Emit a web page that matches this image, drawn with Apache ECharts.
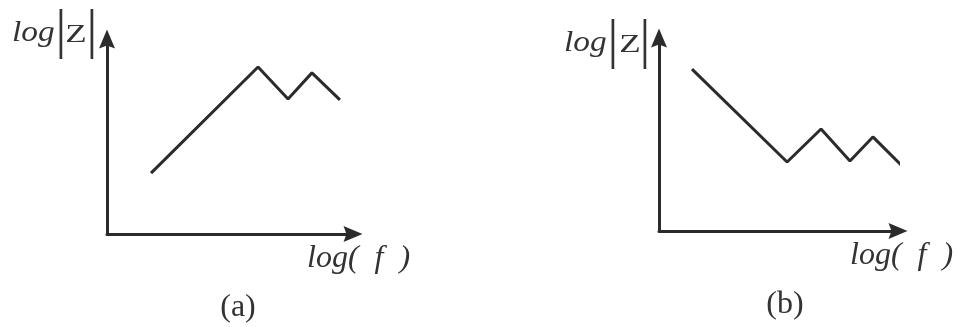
<!DOCTYPE html>
<html lang="en">
<head>
    <meta charset="UTF-8">
    <title>log|Z| - log(f)</title>
    <script type="text/javascript" src="https://cdn.jsdelivr.net/npm/echarts@6/dist/echarts.min.js"></script>
    <style>
        html, body { margin: 0; padding: 0; background: #ffffff; }
        #main { width: 956px; height: 327px; }
    </style>
</head>
<body>
<div id="main"></div>
<script type="text/javascript">

    // (a) impedance rising, then resonances
    var freqA = [1.79, 6.14, 7.36, 8.33, 9.47];
    var magA = [2.50, 6.85, 5.54, 6.61, 5.50];
    // (b) impedance falling, then resonances
    var freqB = [1.38, 5.36, 6.78, 7.99, 8.95, 10.13];
    var magB = [6.71, 2.86, 4.23, 2.90, 3.90, 2.74];

    var xRange = [0, 10];
    var yRange = [0, 8];
    var panelNames = ['(a)', '(b)'];

    var ink = '#2b2b2b';
    var textInk = '#333333';
    var serif = '"Liberation Serif", "DejaVu Serif", serif';
    var arrow = 'path://M8,0 L16,19 L8,16 L0,19 Z';

    function pairs(xs, ys) {
        var out = [];
        for (var i = 0; i < xs.length; i++) {
            out.push([xs[i], ys[i]]);
        }
        return out;
    }

    function axis(idx) {
        return {
            type: 'value',
            gridIndex: idx,
            axisLine: {
                show: true,
                symbol: ['none', arrow],
                symbolSize: [17, 19],
                lineStyle: { color: ink, width: 3 }
            },
            axisTick: { show: false },
            axisLabel: { show: false },
            splitLine: { show: false }
        };
    }

    var xAxes = [];
    var yAxes = [];
    for (var k = 0; k < 2; k++) {
        var xa = axis(k);
        xa.min = xRange[0];
        xa.max = xRange[1];
        xAxes.push(xa);
        var ya = axis(k);
        ya.min = yRange[0];
        ya.max = yRange[1];
        yAxes.push(ya);
    }

    function txt(x, y, s, size, italic, align, sx) {
        return {
            type: 'text',
            x: x,
            y: y,
            scaleX: sx || 1,
            silent: true,
            style: {
                text: s,
                fill: textInk,
                font: (italic ? 'italic ' : '') + size + 'px ' + serif,
                align: align || 'left',
                verticalAlign: 'middle'
            }
        };
    }

    // y axis name: log|Z|
    function yName(x0, dy, zc, b1, b2) {
        return [
            txt(x0, 33 + dy, 'log', 29, true, 'left', 1.15),
            txt(b1, 33 + dy, '|', 54, false, 'center'),
            txt(zc, 35 + dy, 'Z', 26, false, 'center', 1.35),
            txt(b2, 33 + dy, '|', 54, false, 'center')
        ];
    }

    var graphics = []
        .concat(yName(12, 0, 76, 61, 92))
        .concat(yName(564, 10, 630, 613, 645))
        .concat([
            txt(307, 259, 'log(  f  )', 32, true),
            txt(850, 256, 'log(  f  )', 32, true),
            txt(238, 308, panelNames[0], 32, false, 'center'),
            txt(785, 305, panelNames[1], 32, false, 'center')
        ]);

    var option = {
        backgroundColor: '#ffffff',
        animation: false,
        grid: [
            { left: 107, top: 39, width: 246, height: 195 },
            { left: 659, top: 38, width: 239, height: 193 }
        ],
        xAxis: xAxes,
        yAxis: yAxes,
        graphic: graphics,
        series: [
            {
                type: 'line',
                xAxisIndex: 0,
                yAxisIndex: 0,
                data: pairs(freqA, magA),
                showSymbol: false,
                clip: false,
                lineStyle: { color: ink, width: 3 }
            },
            {
                type: 'line',
                xAxisIndex: 1,
                yAxisIndex: 1,
                data: pairs(freqB, magB),
                showSymbol: false,
                clip: false,
                lineStyle: { color: ink, width: 3 }
            }
        ]
    };

    var chart = echarts.init(document.getElementById('main'));
    chart.setOption(option);
</script>
</body>
</html>
